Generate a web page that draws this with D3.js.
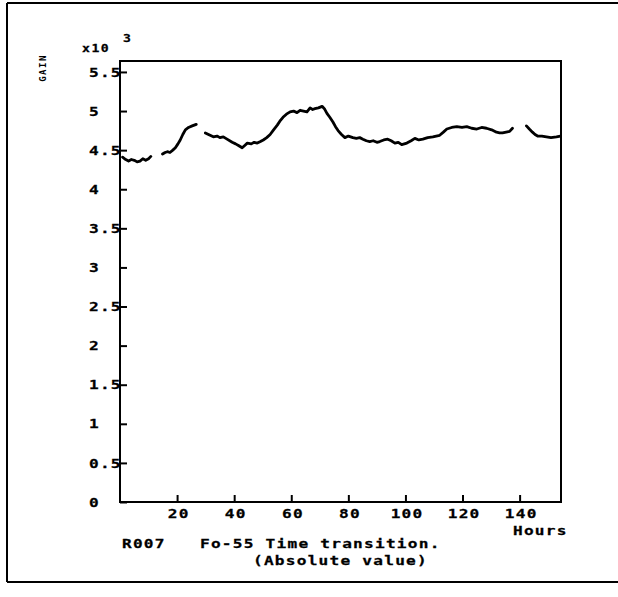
<!DOCTYPE html>
<html>
<head>
<meta charset="utf-8">
<script src="https://cdn.jsdelivr.net/npm/d3@7"></script>
<style>
  html, body { margin: 0; padding: 0; background: #fff; }
  svg { display: block; }
  text { font-family: "DejaVu Sans Mono", monospace; font-weight: bold; fill: #000; }
</style>
</head>
<body>
<svg id="chart" width="618" height="597"></svg>
<script>
// ---- data (gain in units of 10^3, time in hours; null marks a gap in the trace) ----
const hours = [
  0.9, 2, 3, 4, 5, 6, 7, 8, 9, 10, 10.8,
  null,
  14.9, 15.8, 16.6, 17.5, 18.5, 19.4, 20.3, 21.1, 22, 22.9, 24, 25.3, 26.7,
  null,
  29.9, 31, 32.7, 34, 35, 36.2, 37.5, 39.3, 40.5, 41.5, 42.8, 43.7, 44.6, 46, 47, 48.1, 49.2, 50.2,
  51.4, 52.6, 53.8, 55.1, 56, 57.1, 58.3, 59.6, 60.8, 62, 63.1, 64.3, 65.5, 66.6, 67.5, 68.3, 69.5,
  70.8, 71.6, 72.5, 73.5, 74.6, 75.5, 76.4, 77.6, 78.8, 80, 81.6, 82.8, 84, 85.1, 86.3, 87.5, 88.7,
  90, 91, 92.4, 93.8, 95, 96.3, 97.5, 98.7, 99.6, 100.5, 102, 103.3, 104.7, 106.1, 107.8, 109.6,
  110.8, 112, 113.3, 114.5, 116.2, 118, 119.8, 121.5, 123.2, 125, 126.7, 128.4, 130.2, 131.9, 133,
  134, 135.3, 136.5, 137.5,
  null,
  142.4, 143.4, 144.5, 145.4, 146.3, 147.8, 149.4, 151, 152.9, 154.3
];
const gain = [
  4.41, 4.38, 4.36, 4.38, 4.37, 4.35, 4.36, 4.39, 4.37, 4.39, 4.42,
  null,
  4.45, 4.47, 4.48, 4.47, 4.50, 4.53, 4.58, 4.63, 4.70, 4.76, 4.79, 4.81, 4.83,
  null,
  4.72, 4.70, 4.67, 4.68, 4.66, 4.67, 4.64, 4.60, 4.58, 4.56, 4.53, 4.56, 4.59, 4.58, 4.60, 4.59, 4.61, 4.63,
  4.66, 4.70, 4.76, 4.82, 4.87, 4.92, 4.96, 4.99, 5.00, 4.98, 5.01, 5.00, 4.99, 5.04, 5.02, 5.03, 5.04,
  5.06, 5.03, 4.97, 4.92, 4.86, 4.80, 4.75, 4.70, 4.66, 4.68, 4.66, 4.65, 4.66, 4.64, 4.62, 4.61, 4.62,
  4.60, 4.61, 4.63, 4.64, 4.62, 4.59, 4.60, 4.57, 4.58, 4.59, 4.62, 4.65, 4.63, 4.64, 4.66, 4.67,
  4.68, 4.69, 4.73, 4.77, 4.79, 4.80, 4.79, 4.80, 4.78, 4.77, 4.79, 4.78, 4.76, 4.73, 4.72,
  4.72, 4.73, 4.74, 4.78,
  null,
  4.81, 4.77, 4.73, 4.70, 4.68, 4.68, 4.67, 4.66, 4.67, 4.68
];
const xTickValues = [20, 40, 60, 80, 100, 120, 140];
const yTickValues = [0, 0.5, 1, 1.5, 2, 2.5, 3, 3.5, 4, 4.5, 5, 5.5];
const yTickLabels = ["0", "0.5", "1", "1.5", "2", "2.5", "3", "3.5", "4", "4.5", "5", "5.5"];
const yAxisTitle = "GAIN";
const xAxisTitle = "Hours";
const yExponent = ["x10", "3"];
const runId = "R007";
const titleLine1 = "Fo-55 Time transition.";
const titleLine2 = "(Absolute value)";

// ---- layout ----
const svg = d3.select("#chart");
const plot = { left: 120, right: 561, top: 61, bottom: 502 };
const x = d3.scaleLinear().domain([0, 154.5]).range([plot.left, plot.right]);
const y = d3.scaleLinear().domain([0, 5.64]).range([plot.bottom, plot.top]);

// plotter-style text: monospace, stretched horizontally, ~11px per character
const FS = 12.4, SX = 1.3, LS = 0.95;
function label(g, px, py, str, anchor, fs, sx, ls) {
  fs = fs || FS; sx = sx || SX; ls = (ls === undefined) ? LS : ls;
  const shift = anchor === "middle" ? ls / 2 : (anchor === "end" ? ls : 0);
  return g.append("text")
    .attr("transform", `translate(${px},${py}) scale(${sx},1)`)
    .attr("x", shift)
    .attr("text-anchor", anchor || "start")
    .attr("font-size", fs)
    .attr("letter-spacing", ls)
    .attr("stroke", "#000").attr("stroke-width", 0.25)
    .text(str);
}

// outer frame
const frame = svg.append("g").attr("stroke", "#000").attr("stroke-width", 2).attr("fill", "none");
frame.append("line").attr("x1", 7).attr("y1", 3).attr("x2", 618).attr("y2", 3);
frame.append("line").attr("x1", 7).attr("y1", 3).attr("x2", 7).attr("y2", 582);
frame.append("line").attr("x1", 7).attr("y1", 582).attr("x2", 618).attr("y2", 582);

// plot frame
svg.append("rect")
  .attr("x", plot.left).attr("y", plot.top)
  .attr("width", plot.right - plot.left).attr("height", plot.bottom - plot.top)
  .attr("fill", "none").attr("stroke", "#000").attr("stroke-width", 2);

// y axis ticks (inward)
const yAxis = d3.axisRight(y).tickValues(yTickValues).tickSize(7).tickFormat("");
const gy = svg.append("g").attr("transform", `translate(${plot.left},0)`).call(yAxis);
gy.select(".domain").remove();
gy.selectAll("line").attr("stroke", "#000").attr("stroke-width", 2);

const gyl = svg.append("g");
yTickValues.forEach((d, i) => label(gyl, 89, y(d) + 4.6, yTickLabels[i], "start"));

// x axis ticks (inward)
const xAxis = d3.axisTop(x).tickValues(xTickValues).tickSize(7).tickFormat("");
const gx = svg.append("g").attr("transform", `translate(0,${plot.bottom})`).call(xAxis);
gx.select(".domain").remove();
gx.selectAll("line").attr("stroke", "#000").attr("stroke-width", 2);

const gxl = svg.append("g");
xTickValues.forEach(d => label(gxl, x(d) + 1, 518, String(d), "middle"));

// axis titles
label(svg, 513, 535, xAxisTitle, "start");
svg.append("text")
  .attr("transform", "translate(46,68) rotate(-90)")
  .attr("text-anchor", "middle")
  .attr("font-size", 9).attr("letter-spacing", 1.5).text(yAxisTitle);
label(svg, 82, 52, yExponent[0], "start", 10.5, 1.25, 1.2);
label(svg, 123, 42, yExponent[1], "start", 10.5, 1.25, 1.2);

// caption
label(svg, 122, 548, runId, "start");
label(svg, 200, 548, titleLine1, "start");
label(svg, 253, 565, titleLine2, "start");

// trace
const pts = hours.map((h, i) => ({ h, v: gain[i] }));
const line = d3.line()
  .defined(d => d.h !== null && d.v !== null)
  .x(d => x(d.h)).y(d => y(d.v));
svg.append("path")
  .attr("d", line(pts))
  .attr("fill", "none").attr("stroke", "#000")
  .attr("stroke-width", 2.8).attr("stroke-linejoin", "round").attr("stroke-linecap", "round");
</script>
</body>
</html>
